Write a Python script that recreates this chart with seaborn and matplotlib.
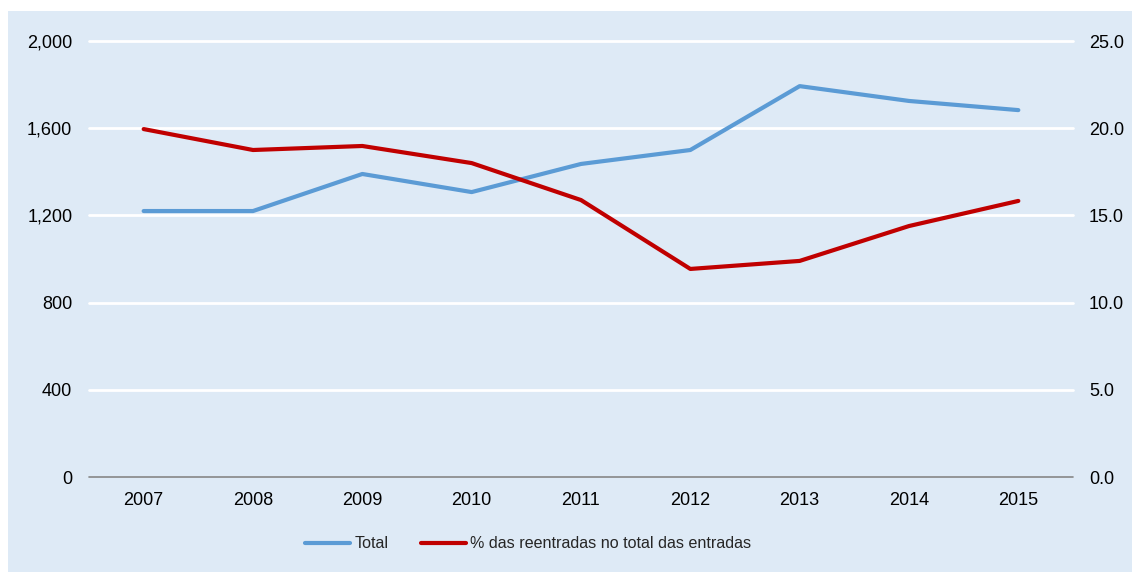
import matplotlib
matplotlib.use("Agg")
import matplotlib.pyplot as plt
import matplotlib.patches as mpatches
from matplotlib.lines import Line2D
import seaborn as sns
import pandas as pd

years = ["2007", "2008", "2009", "2010", "2011", "2012", "2013", "2014", "2015"]
total = [1220, 1220, 1390, 1307, 1436, 1500, 1793, 1725, 1683]
pct_reentradas = [19.95, 18.75, 18.98, 18.0, 15.88, 11.93, 12.39, 14.39, 15.83]
left_ticks = [0, 400, 800, 1200, 1600, 2000]
right_ticks = [0, 5, 10, 15, 20, 25]

sns.set_theme(style="white")
plt.rcParams["font.family"] = ["Liberation Sans", "DejaVu Sans"]

bg = "#DEEAF6"
blue = "#5B9BD5"
red = "#C00000"

fig = plt.figure(figsize=(11.32, 5.72), dpi=100)
fig.patch.set_facecolor("white")
fig.patches.append(mpatches.Rectangle((8 / 1132, 0), 1 - 8 / 1132, 1 - 11 / 572,
                                      transform=fig.transFigure, facecolor=bg,
                                      edgecolor="none", zorder=-10))

ax = fig.add_axes([89 / 1132, 1 - 477 / 572, (1073 - 89) / 1132, (477 - 41) / 572])
ax.set_facecolor("none")
df = pd.DataFrame({"x": list(range(len(years))), "total": total, "pct": pct_reentradas})

for v in left_ticks[1:]:
    ax.axhline(v, color="white", linewidth=2, zorder=1, clip_on=False)
ax.axhline(0, color="#878787", linewidth=1.2, zorder=1, clip_on=False)

sns.lineplot(data=df, x="x", y="total", ax=ax, color=blue, linewidth=3, zorder=3)
ax2 = ax.twinx()
sns.lineplot(data=df, x="x", y="pct", ax=ax2, color=red, linewidth=3, zorder=3)

ax.set_xlim(-0.5, len(years) - 0.5)
ax.set_ylim(0, 2000)
ax2.set_ylim(0, 25)
ax.set_yticks(left_ticks)
ax.set_yticklabels([f"{v:,}" for v in left_ticks])
ax2.set_yticks(right_ticks)
ax2.set_yticklabels([f"{v:.1f}" for v in right_ticks])
ax.set_xticks(range(len(years)))
ax.set_xticklabels(years)

for a in (ax, ax2):
    for s in a.spines.values():
        s.set_visible(False)
    a.set_xlabel("")
    a.set_ylabel("")
    a.tick_params(axis="both", length=0, labelsize=13, colors="black")
ax.tick_params(axis="y", pad=12)
ax2.tick_params(axis="y", pad=11.5)
ax.tick_params(axis="x", pad=10.5)

handles = [Line2D([0], [0], color=blue, lw=3), Line2D([0], [0], color=red, lw=3)]
fig.legend(handles, ["Total", "% das reentradas no total das entradas"],
           loc="center", bbox_to_anchor=(528 / 1132, 1 - 544 / 572), ncol=2,
           frameon=False, fontsize=11.6, handlelength=2.8, handletextpad=0.25,
           columnspacing=2.0)

fig.savefig("out.png", dpi=100)
